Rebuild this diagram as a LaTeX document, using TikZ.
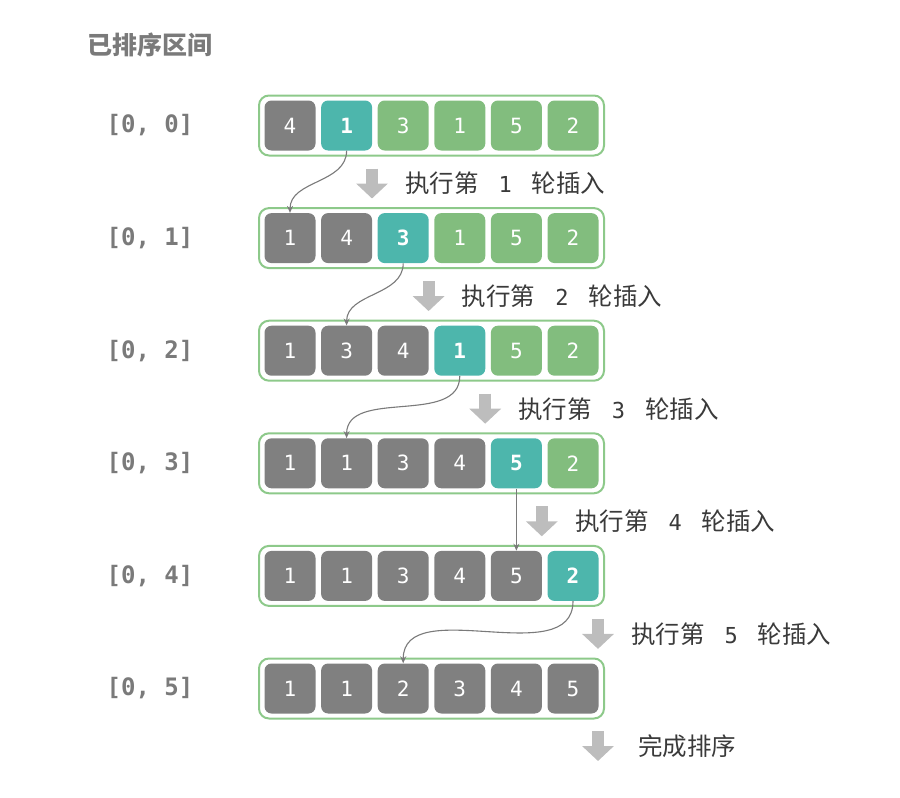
\documentclass[tikz,border=0pt]{standalone}
\usepackage{fontspec}
\setmainfont{DejaVu Sans}
\newfontfamily\cjk{Noto Sans CJK SC}
\newfontfamily\mono{DejaVu Sans Mono}
\usetikzlibrary{arrows.meta}
\definecolor{cgray}{HTML}{808080}
\definecolor{cteal}{HTML}{4DB6AC}
\definecolor{cgreen}{HTML}{82BD7E}
\definecolor{cborder}{HTML}{8DC98A}
\definecolor{carrow}{HTML}{BDBDBD}
\definecolor{clabel}{HTML}{7A7A7A}
\definecolor{ctext}{HTML}{3A3A3A}
\definecolor{clink}{HTML}{7A7A7A}
\tikzset{
  cellbox/.style={rounded corners=7pt, minimum width=51pt, minimum height=50pt, inner sep=0pt, text=white, font=\mono\fontsize{21}{21}\selectfont},
  outerbox/.style={draw=cborder, line width=2pt, rounded corners=10pt, minimum width=345pt, minimum height=60pt, inner sep=0pt},
  rowlabel/.style={text=clabel, font=\mono\bfseries\fontsize{24}{24}\selectfont},
  steptext/.style={anchor=west, text=ctext, font=\cjk\fontsize{24.5}{24.5}\selectfont, inner sep=0pt},
  bigarrow/.style={draw=carrow, line width=12pt, -{Triangle[width=31pt,length=15pt]}},
  link/.style={draw=clink, line width=1.1pt, -{Stealth[length=7pt,width=6pt]}},
}
\begin{document}
\begin{tikzpicture}[x=1pt,y=-1pt]
\useasboundingbox (0,0) rectangle (900,798);
\node[anchor=center, text=clabel, font=\cjk\bfseries\fontsize{25}{25}\selectfont] (title) at (150,45) {已排序区间};
\foreach \r/\vals in {0/{4,1,3,1,5,2},1/{1,4,3,1,5,2},2/{1,3,4,1,5,2},3/{1,1,3,4,5,2},4/{1,1,3,4,5,2},5/{1,1,2,3,4,5}}{
  \pgfmathsetmacro\yy{125.5+112.6*\r}
  \node[outerbox] (box\r) at (431.5,\yy) {};
  \node[rowlabel] (lab\r) at (150,\yy) {[0, \r]};
  \foreach \v [count=\c from 0] in \vals {
    \pgfmathsetmacro\xx{290+56.6*\c}
    \ifnum\c>\r
      \pgfmathtruncatemacro\nx{\r+1}
      \ifnum\c=\nx
        \node[cellbox, fill=cteal, font=\mono\bfseries\fontsize{21}{21}\selectfont] (c\r\c) at (\xx,\yy) {\v};
      \else
        \node[cellbox, fill=cgreen] (c\r\c) at (\xx,\yy) {\v};
      \fi
    \else
      \node[cellbox, fill=cgray] (c\r\c) at (\xx,\yy) {\v};
    \fi
  }
}
% step arrows and texts
\foreach \r/\ax in {0/372,1/428.6,2/485.2,3/541.8,4/598}{
  \pgfmathsetmacro\yt{125.5+112.6*\r+43}
  \pgfmathsetmacro\yb{125.5+112.6*\r+73}
  \pgfmathsetmacro\ym{125.5+112.6*\r+58}
  \pgfmathtruncatemacro\n{\r+1}
  \coordinate (at\r) at (\ax,\yt);
  \coordinate (ab\r) at (\ax,\yb);
  \draw[bigarrow] (at\r) -- (ab\r);
  \node[steptext] (t\r) at (\ax+33,\ym) {执行第\hspace{20pt}{\mono\fontsize{22}{22}\selectfont\n}\hspace{20pt}轮插入};
}
\coordinate (at5) at (598,731);
\coordinate (ab5) at (598,761);
\draw[bigarrow] (at5) -- (ab5);
\node[steptext] (t5) at (638,746) {完成排序};
% insertion links
\draw[link] (c01.south) to[out=-90,in=90] (c10.north);
\draw[link] (c12.south) to[out=-90,in=90] (c21.north);
\draw[link] (c23.south) to[out=-90,in=90] (c31.north);
\draw[link] (c34.south) -- (c44.north);
\draw[link] (c45.south) to[out=-90,in=90] (c52.north);
\end{tikzpicture}
\end{document}
